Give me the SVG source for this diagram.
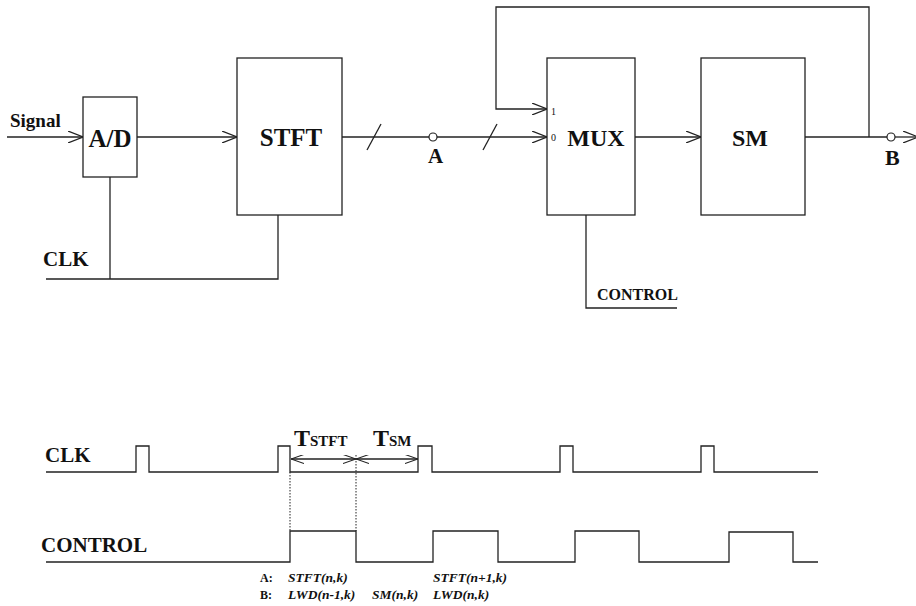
<svg xmlns="http://www.w3.org/2000/svg" width="916" height="606" viewBox="0 0 916 606">
<defs>
<marker id="arr" viewBox="0 0 15 12" refX="15" refY="6" markerWidth="15" markerHeight="12" orient="auto-start-reverse" markerUnits="userSpaceOnUse">
<path d="M0,0 L15,6 L0,12" fill="none" stroke="#222" stroke-width="1.2"/>
</marker>
<marker id="arrs" viewBox="0 0 13 9" refX="13" refY="4.5" markerWidth="13" markerHeight="9" orient="auto-start-reverse" markerUnits="userSpaceOnUse">
<path d="M0,0 L13,4.5 L0,9" fill="none" stroke="#222" stroke-width="1.1"/>
</marker>
<style>
.box{fill:#fff;stroke:#222;stroke-width:1.3}
.ln{fill:none;stroke:#222;stroke-width:1.3}
.dot{fill:none;stroke:#222;stroke-width:1;stroke-dasharray:1.5 1.5}
.t{font-family:"Liberation Serif","Times New Roman",serif;font-weight:bold;fill:#111}
.it{font-family:"Liberation Serif","Times New Roman",serif;font-weight:bold;font-style:italic;fill:#111;font-size:13.5px}
.lab{font-family:"Liberation Serif","Times New Roman",serif;font-weight:bold;fill:#111;font-size:12px}
.sm{font-family:"Liberation Serif","Times New Roman",serif;fill:#111;font-size:10px}
</style>
</defs>

<g id="connectors">
<line class="ln" x1="7" y1="137" x2="83" y2="137" marker-end="url(#arr)"/>
<line class="ln" x1="137" y1="137" x2="237" y2="137" marker-end="url(#arr)"/>
<line class="ln" x1="342" y1="137" x2="429" y2="137"/>
<line class="ln" x1="437" y1="137" x2="547" y2="137" marker-end="url(#arr)"/>
<line class="ln" x1="367" y1="150" x2="381" y2="124"/>
<line class="ln" x1="483" y1="150" x2="497" y2="124"/>
<line class="ln" x1="635" y1="137" x2="701" y2="137" marker-end="url(#arr)"/>
<line class="ln" x1="805" y1="137" x2="887" y2="137"/>
<line class="ln" x1="895" y1="137" x2="918" y2="137" marker-end="url(#arr)"/>
<polyline class="ln" points="869,137 869,7 496,7 496,109 547,109" marker-end="url(#arr)"/>
<polyline class="ln" points="110,177 110,279"/>
<polyline class="ln" points="46,279 278,279 278,215"/>
<polyline class="ln" points="586,215 586,308 677,308"/>
<circle cx="433" cy="137" r="4" fill="#fff" stroke="#222" stroke-width="1.2"/>
<circle cx="891" cy="137" r="4" fill="#fff" stroke="#222" stroke-width="1.2"/>
</g>

<g id="ad"><rect class="box" x="83" y="97" width="54" height="80"/><text class="t" x="110" y="147" font-size="25" text-anchor="middle">A/D</text></g>
<g id="stft"><rect class="box" x="237" y="58" width="105" height="157"/><text class="t" x="291" y="146" font-size="25" text-anchor="middle">STFT</text></g>
<g id="mux"><rect class="box" x="547" y="58" width="88" height="157"/><text class="t" x="596" y="146" font-size="24" text-anchor="middle">MUX</text>
<text class="sm" x="551" y="115">1</text><text class="sm" x="551" y="141">0</text></g>
<g id="sm"><rect class="box" x="701" y="58" width="104" height="157"/><text class="t" x="750" y="146" font-size="24" text-anchor="middle">SM</text></g>

<g id="labels">
<text class="t" x="10" y="127" font-size="19">Signal</text>
<text class="t" x="43" y="266" font-size="21">CLK</text>
<text class="t" x="597" y="300" font-size="16">CONTROL</text>
<text class="t" x="428" y="163" font-size="21">A</text>
<text class="t" x="885" y="165" font-size="22">B</text>
</g>

<g id="timing">
<text class="t" x="45" y="462" font-size="21">CLK</text>
<polyline class="ln" points="46,472 136,472 136,446 149,446 149,472 278,472 278,446 290,446 290,472 418,472 418,446 432,446 432,472 560,472 560,446 573,446 573,472 701,472 701,446 714,446 714,472 818,472"/>
<text class="t" x="41" y="552" font-size="21">CONTROL</text>
<polyline class="ln" points="46,562 290,562 290,531 356,531 356,562 433,562 433,531 498,531 498,562 575,562 575,531 639,531 639,562 729,562 729,532 793,532 793,562 818,562"/>
<line class="dot" x1="290" y1="472" x2="290" y2="531"/>
<line class="dot" x1="356" y1="455" x2="356" y2="531"/>
<line class="ln" x1="291" y1="459" x2="356" y2="459" stroke-width="1.1" marker-start="url(#arrs)" marker-end="url(#arrs)"/>
<line class="ln" x1="356" y1="459" x2="418" y2="459" stroke-width="1.1" marker-start="url(#arrs)" marker-end="url(#arrs)"/>
<text class="t" x="294" y="446" font-size="24">T<tspan font-size="15">STFT</tspan></text>
<text class="t" x="373" y="446" font-size="24">T<tspan font-size="15">SM</tspan></text>
<text class="lab" x="260" y="582">A:</text>
<text class="lab" x="260" y="599">B:</text>
<text class="it" x="288" y="582">STFT(n,k)</text>
<text class="it" x="288" y="599">LWD(n-1,k)</text>
<text class="it" x="372" y="599">SM(n,k)</text>
<text class="it" x="433" y="582">STFT(n+1,k)</text>
<text class="it" x="433" y="599">LWD(n,k)</text>
</g>
</svg>
